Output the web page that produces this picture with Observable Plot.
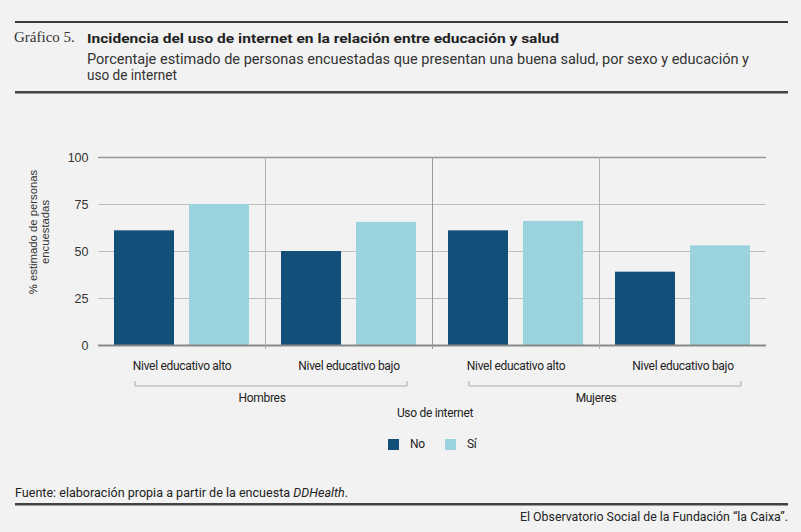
<!DOCTYPE html>
<html><head><meta charset="utf-8">
<script src="https://cdn.jsdelivr.net/npm/d3@7"></script>
<script src="https://cdn.jsdelivr.net/npm/@observablehq/plot@0.6"></script>
<style>
html,body{margin:0;padding:0;background:#f2f2f2;width:801px;height:532px;overflow:hidden;position:relative}
.abs{position:absolute;white-space:nowrap;transform-origin:0 0;color:#333;line-height:1}
.rule{position:absolute;}
#chart{position:absolute;left:0;top:100px}
#legend{position:absolute;left:0;top:436px;width:801px;height:16px;font:12px Roboto,sans-serif;letter-spacing:-0.3px;color:#222}
.sw{position:absolute;top:3px;width:11px;height:11px}
.lb{position:absolute;top:2px;line-height:1}
</style></head><body>
<div class="rule" style="left:15px;top:20.5px;width:773px;height:2px;background:#3a3a3a"></div>
<div id="gr" class="abs" style="left:14px;top:28.5px;font:15px 'Liberation Serif',serif;color:#333">Gráfico 5.</div>
<div id="title" class="abs" style="left:87px;top:30px;font:bold 13.5px Roboto,sans-serif;color:#222">Incidencia del uso de internet en la relación entre educación y salud</div>
<div id="sub1" class="abs" style="left:87px;top:51px;font:14.5px Roboto,sans-serif;color:#333">Porcentaje estimado de personas encuestadas que presentan una buena salud, por sexo y educación y</div>
<div id="sub2" class="abs" style="left:87px;top:67.3px;font:14.5px Roboto,sans-serif;color:#333">uso de internet</div>
<div class="rule" style="left:15px;top:91px;width:773px;height:2px;background:#444"></div>
<div class="rule" style="left:15px;top:93px;width:773px;height:1px;background:#999"></div>
<div id="chart"></div>
<div id="legtitle" class="abs" style="top:406px;font:12px Roboto,sans-serif;letter-spacing:-0.3px;color:#222">Uso de internet</div>
<div id="legend"></div>
<div id="fuente" class="abs" style="left:15px;top:485.7px;font:12.2px Roboto,sans-serif;color:#222">Fuente: elaboración propia a partir de la encuesta <i>DDHealth</i>.</div>
<div class="rule" style="left:15px;top:503.3px;width:773px;height:2px;background:#444"></div>
<div class="rule" style="left:15px;top:505.3px;width:773px;height:1px;background:#999"></div>
<div id="obs" class="abs" style="top:509.7px;font:12.2px Roboto,sans-serif;color:#222">El Observatorio Social de la Fundación “la Caixa”.</div>
<script>
// ---- data ----
const sexes = ["Hombres", "Mujeres"];
const levels = ["Nivel educativo alto", "Nivel educativo bajo"];
const usos = ["No", "Sí"];
// order: Hombres-alto, Hombres-bajo, Mujeres-alto, Mujeres-bajo
const valuesNo = [61, 50, 61, 39];
const valuesSi = [75, 65.5, 66, 53];
const yTicks = [0, 25, 50, 75, 100];
const colors = ["#134f79", "#9ad3de"];
const yLabelLines = ["% estimado de personas", "encuestadas"];

const keys = [];
const rows = [];
sexes.forEach((s, i) => levels.forEach((l, j) => {
  const k = s + "|" + l;
  keys.push(k);
  const idx = i * levels.length + j;
  rows.push({key: k, sex: s, level: l, uso: usos[0], value: valuesNo[idx]});
  rows.push({key: k, sex: s, level: l, uso: usos[1], value: valuesSi[idx]});
}));

const narrow = "Roboto,sans-serif";

const chart = Plot.plot({
  width: 801, height: 310,
  marginLeft: 96, marginRight: 34, marginTop: 57, marginBottom: 65,
  style: {background: "transparent", fontFamily: "'Liberation Sans',Arial,sans-serif", fontSize: "12.5px", color: "#333", overflow: "visible"},
  fx: {domain: keys, padding: 0, label: null, tickSize: 0, tickPadding: 16, tickFormat: k => k.split("|")[1], axis: "bottom"},
  x: {domain: usos, padding: 0.2, axis: null},
  y: {domain: [0, 100], ticks: yTicks, tickSize: 0, tickPadding: 10, label: null},
  color: {domain: usos, range: colors},
  marks: [
    Plot.ruleY(yTicks.filter(t => t > 0 && t < 100), {stroke: "#bdbdbd", strokeWidth: 1}),
    Plot.ruleY(yTicks.filter(t => t === 100), {stroke: "#999", strokeWidth: 1.3}),
    Plot.barY(rows, {fx: "key", x: "uso", y: "value", fill: "uso"}),
    Plot.ruleY(yTicks.filter(t => t === 0), {stroke: "#888", strokeWidth: 2})
  ]
});
document.getElementById("chart").appendChild(chart);

// fx axis labels in narrow style
d3.select(chart).selectAll('g[aria-label="fx-axis tick label"] text, g[aria-label="fx-axis"] text')
  .style("font-family", narrow).style("font-size", "12px").style("letter-spacing", "-0.3px").attr("fill", "#222");

// scales
const fxs = chart.scale("fx");
const ys = chart.scale("y");
const bw = fxs.bandwidth != null ? fxs.bandwidth : (fxs.range[1] - fxs.range[0]) / keys.length;
const fxStart = k => fxs.apply ? fxs.apply(k) : fxs.range[0] + keys.indexOf(k) * bw;
const Y = v => ys.apply ? ys.apply(v) : 245 - (v / 100) * 188;

const svg = d3.select(chart);
const ann = svg.append("g");
// separators between facets
keys.slice(1).forEach((k, i) => {
  const x = Math.round(fxStart(k)) + 0.5;
  ann.append("line").attr("x1", x).attr("x2", x)
    .attr("y1", Y(100)).attr("y2", Y(0) + 4)
    .attr("stroke", i === 1 ? "#9a9a9a" : "#b0b0b0").attr("stroke-width", 1);
});
// group brackets and sex labels
const brY = Y(0) + 41;
sexes.forEach(s => {
  const a = fxStart(s + "|" + levels[0]);
  const b = fxStart(s + "|" + levels[levels.length - 1]) + bw;
  const x1 = a + 37, x2 = b - 25;
  ann.append("path")
    .attr("d", `M${x1},${brY - 5}V${brY}H${x2}V${brY - 5}`)
    .attr("fill", "none").attr("stroke", "#aaa").attr("stroke-width", 1);
  ann.append("text").attr("x", (a + b) / 2 - 3).attr("y", brY + 16)
    .attr("text-anchor", "middle").style("font-family", narrow).style("font-size", "12px")
    .style("letter-spacing", "-0.3px").attr("fill", "#222").text(s);
});
// y axis label (two lines, rotated)
yLabelLines.forEach((t, i) => {
  ann.append("text")
    .attr("transform", `translate(${33 + i * 12},${Y(100) + 75}) rotate(-90)`)
    .attr("text-anchor", "middle").attr("dominant-baseline", "central")
    .style("font-family", "'Liberation Sans',Arial,sans-serif").style("font-size", "11.3px")
    .attr("fill", "#333").text(t);
});

// legend from data
const leg = document.getElementById("legend");
const legPos = [388, 445];
usos.forEach((u, i) => {
  const sw = document.createElement("div");
  sw.className = "sw"; sw.style.left = legPos[i] + "px"; sw.style.background = colors[i];
  leg.appendChild(sw);
  const lb = document.createElement("div");
  lb.className = "lb"; lb.style.left = (legPos[i] + 22) + "px"; lb.textContent = u;
  leg.appendChild(lb);
});

// fit header/footer text widths
function fit(id, w, right) {
  const el = document.getElementById(id);
  const r = el.getBoundingClientRect().width;
  el.style.transform = `scaleX(${w / r})`;
  if (right != null) el.style.left = (right - w) + "px";
}
function center(id, cx) {
  const el = document.getElementById(id);
  const r = el.getBoundingClientRect().width;
  el.style.left = (cx - r / 2) + "px";
}
fit("title", 472);
fit("sub1", 662);
fit("sub2", 90);
fit("fuente", 333);
fit("obs", 268, 788);
center("legtitle", 435);
</script>
</body></html>
